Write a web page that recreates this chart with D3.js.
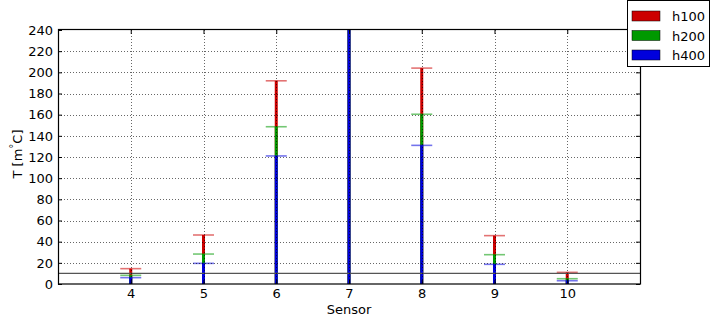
<!DOCTYPE html>
<html><head><meta charset="utf-8">
<script src="https://cdn.jsdelivr.net/npm/d3@7"></script>
<style>body{margin:0;background:#fff}svg{display:block}text{font-family:"DejaVu Sans",sans-serif;font-size:13px;fill:#000}</style>
</head><body><svg id="c" width="711" height="320"></svg>
<script>
const sensors = [4, 5, 6, 7, 8, 9, 10];
const h100 = [14.5, 46.3, 192, 400, 204, 45.7, 11];
const h200 = [8.2, 28.3, 148.6, 320, 160.4, 27.7, 5];
const h400 = [6.0, 19.5, 121, 280, 131, 18.6, 3.1];
const seriesNames = ["h100", "h200", "h400"];
const seriesColors = ["#cc0000", "#009900", "#0000dd"];
const yTicks = d3.range(0, 241, 20);
const refLine = 10;

const svg = d3.select("#c");
const L = 58, R = 640, T = 30, B = 284;
const x = d3.scaleLinear().domain([3, 11]).range([L, R]);
const y = d3.scaleLinear().domain([0, 240]).range([B, T]);

const defs = svg.append("defs");
defs.append("clipPath").attr("id", "clip").append("rect")
  .attr("x", L).attr("y", T).attr("width", R - L).attr("height", B - T);

const plot = svg.append("g").attr("clip-path", "url(#clip)");
const data = [h100, h200, h400];
data.forEach((vals, si) => {
  const g = plot.append("g");
  g.selectAll("line.bar").data(sensors).enter().append("line")
    .attr("x1", d => x(d)).attr("x2", d => x(d))
    .attr("y1", y(0)).attr("y2", (d, i) => y(vals[i]))
    .attr("stroke", seriesColors[si]).attr("stroke-width", 3);
  g.selectAll("line.cap").data(sensors).enter().append("line")
    .attr("x1", d => x(d) - 10.5).attr("x2", d => x(d) + 10.5)
    .attr("y1", (d, i) => y(vals[i])).attr("y2", (d, i) => y(vals[i]))
    .attr("stroke", seriesColors[si]).attr("stroke-width", 1.6).attr("stroke-opacity", 0.55);
});

// reference line
plot.append("line").attr("x1", L).attr("x2", R).attr("y1", y(refLine)).attr("y2", y(refLine))
  .attr("stroke", "#555").attr("stroke-width", 1.2);

// grid (on top)
const grid = svg.append("g").attr("stroke", "#000").attr("stroke-width", 0.6).attr("stroke-dasharray", "1,2");
grid.selectAll("line.h").data(yTicks.filter(v => v > 0 && v < 240)).enter().append("line")
  .attr("x1", L).attr("x2", R).attr("y1", d => Math.round(y(d)) + 0.5).attr("y2", d => Math.round(y(d)) + 0.5);
grid.selectAll("line.v").data(sensors).enter().append("line")
  .attr("y1", T).attr("y2", B).attr("x1", d => Math.round(x(d)) + 0.5).attr("x2", d => Math.round(x(d)) + 0.5);

// axes
const yAxisL = d3.axisLeft(y).tickValues(yTicks).tickSizeInner(-4).tickSizeOuter(0).tickPadding(5);
const yAxisR = d3.axisRight(y).tickValues(yTicks).tickSizeInner(-4).tickSizeOuter(0).tickFormat("");
const xAxisB = d3.axisBottom(x).tickValues(sensors).tickSizeInner(-4).tickSizeOuter(0).tickPadding(5).tickFormat(d3.format("d"));
const xAxisT = d3.axisTop(x).tickValues(sensors).tickSizeInner(-4).tickSizeOuter(0).tickFormat("");
function style(g) {
  g.select(".domain").remove();
  g.selectAll("line").attr("stroke", "#000");
  g.selectAll("text").attr("font-family", "DejaVu Sans").attr("font-size", 13).attr("fill", "#000");
}
svg.append("g").attr("transform", `translate(${L},0)`).call(yAxisL).call(style);
svg.append("g").attr("transform", `translate(${R},0)`).call(yAxisR).call(style);
svg.append("g").attr("transform", `translate(0,${B})`).call(xAxisB).call(style);
svg.append("g").attr("transform", `translate(0,${T})`).call(xAxisT).call(style);

svg.append("rect").attr("x", L + 0.5).attr("y", T - 0.5).attr("width", R - L).attr("height", B - T + 0.5)
  .attr("fill", "none").attr("stroke", "#000").attr("stroke-width", 1.2);

// labels
svg.append("text").attr("x", (L + R) / 2).attr("y", 314).attr("text-anchor", "middle").text("Sensor");
const yl = svg.append("text").attr("transform", `translate(22,${(T + B) / 2 - 3}) rotate(-90)`).attr("text-anchor", "middle");
yl.append("tspan").text("T [m");
yl.append("tspan").attr("dy", -5).attr("font-size", 10).text("°");
yl.append("tspan").attr("dy", 5).text("C]");

// legend
const lg = svg.append("g");
lg.append("rect").attr("x", 627.5).attr("y", 0.5).attr("width", 82).attr("height", 66)
  .attr("fill", "#fff").attr("stroke", "#000").attr("stroke-width", 1);
seriesNames.forEach((n, i) => {
  const yy = 16 + i * 19.5;
  lg.append("rect").attr("x", 632).attr("y", yy - 5).attr("width", 28).attr("height", 10)
    .attr("fill", seriesColors[i]).attr("stroke", "#000").attr("stroke-width", 0.5);
  lg.append("text").attr("x", 672).attr("y", yy + 5).text(n);
});
</script></body></html>
